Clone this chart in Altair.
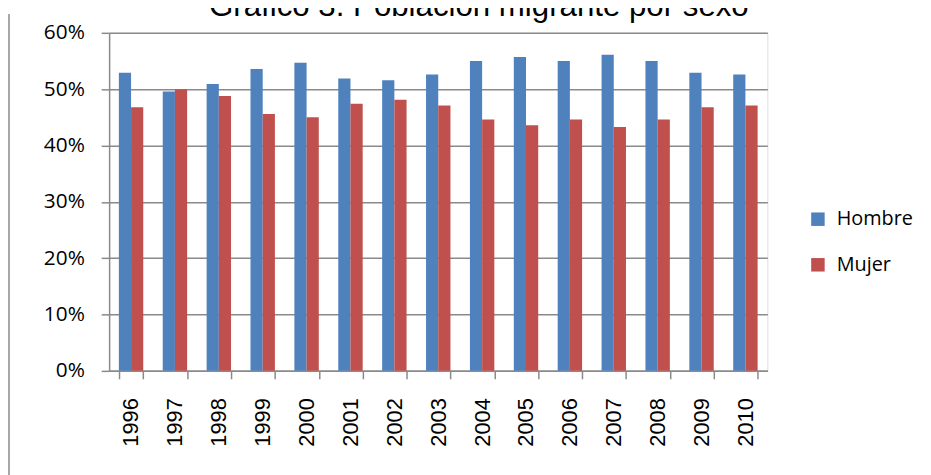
import altair as alt
import pandas as pd

TITLE = "Gráfico 3: Población migrante por sexo"
years = ["1996", "1997", "1998", "1999", "2000", "2001", "2002", "2003",
         "2004", "2005", "2006", "2007", "2008", "2009", "2010"]
hombre = [52.9, 49.6, 50.9, 53.6, 54.7, 51.9, 51.6, 52.6,
          55.0, 55.7, 55.0, 56.1, 55.0, 52.9, 52.6]
mujer = [46.8, 50.0, 48.8, 45.6, 45.0, 47.4, 48.1, 47.1,
         44.6, 43.6, 44.6, 43.3, 44.6, 46.8, 47.1]
series = ["Hombre", "Mujer"]
colors = ["#4F81BD", "#C0504D"]
y_ticks = [0, 0.1, 0.2, 0.3, 0.4, 0.5, 0.6]

rows = []
for i, yr in enumerate(years):
    rows.append({"year": yr, "sexo": series[0], "v": hombre[i] / 100})
    rows.append({"year": yr, "sexo": series[1], "v": mujer[i] / 100})
df = pd.DataFrame(rows)

GRID = "#8a8a8a"
PAD_L = 102

bars = alt.Chart(df).mark_bar().encode(
    x=alt.X("year:N", sort=years, title=None,
            scale=alt.Scale(paddingInner=0.444, paddingOuter=0.222),
            axis=alt.Axis(labelAngle=270, labelFont="Liberation Sans", labelFontSize=22,
                          labelColor="black", labelPadding=19, tickSize=8,
                          tickBand="extent", tickColor=GRID, tickWidth=1.5,
                          domainColor=GRID, domainWidth=1.5, grid=False)),
    xOffset=alt.XOffset("sexo:N", sort=series, scale=alt.Scale(paddingInner=0, paddingOuter=0)),
    y=alt.Y("v:Q", title=None,
            scale=alt.Scale(domain=[0, 0.6], nice=False),
            axis=alt.Axis(values=y_ticks, format=".0%", labelFont="Open Sans",
                          labelFontSize=21, labelColor="black", labelPadding=17,
                          tickSize=8, tickColor=GRID, tickWidth=1.5,
                          domainColor=GRID, domainWidth=1.5,
                          grid=True, gridColor=GRID, gridWidth=1.5)),
    color=alt.Color("sexo:N", sort=series,
                    scale=alt.Scale(domain=series, range=colors),
                    legend=alt.Legend(title=None, orient="none", legendX=705, legendY=178,
                                      symbolType="square", symbolSize=185,
                                      symbolStrokeWidth=0, labelFont="Open Sans",
                                      labelFontSize=20, labelColor="black",
                                      labelOffset=9, rowPadding=26, padding=0)),
)

title_layer = alt.Chart(pd.DataFrame({"t": [TITLE]})).mark_text(
    font="Liberation Sans", fontSize=31.5, color="black",
    align="center", baseline="alphabetic"
).encode(text="t:N", x=alt.value(373), y=alt.value(-17))

border = alt.Chart(pd.DataFrame({"a": [0]})).mark_rule(
    color=GRID, strokeWidth=1.5
).encode(x=alt.value(1 - PAD_L), y=alt.value(-19), y2=alt.value(500))

chart = alt.layer(bars, title_layer, border).properties(
    width=664, height=341,
    autosize=alt.AutoSizeParams(type="none"),
    padding={"left": PAD_L, "top": 23, "right": 157, "bottom": 103},
).configure_view(stroke=None).configure(background="white")

chart.save("out.html", embed_options={"renderer": "svg", "actions": False})
